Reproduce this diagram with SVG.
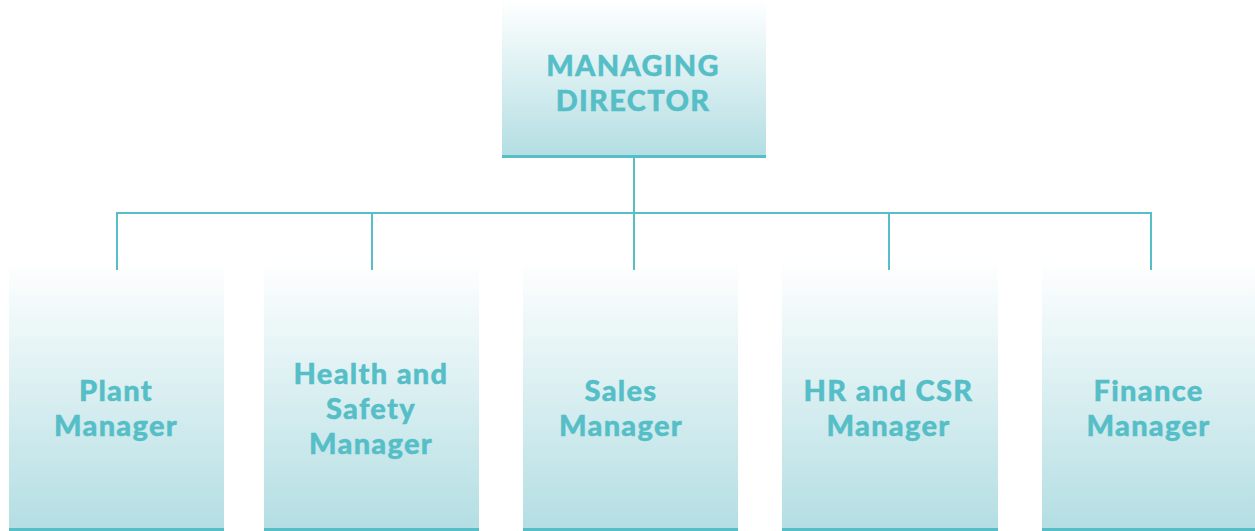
<svg xmlns="http://www.w3.org/2000/svg" width="1255" height="531" viewBox="0 0 1255 531">
  <defs>
    <linearGradient id="boxFill" x1="0" y1="0" x2="0" y2="1">
      <stop offset="0" stop-color="#ffffff"/>
      <stop offset="1" stop-color="#b3dee3"/>
    </linearGradient>
    <style>
      .box { fill: url(#boxFill); }
      .base { fill: #55bec7; }
      .label { font-family: Lato, "Open Sans", sans-serif; font-weight: 900; font-size: 29px; fill: #55bec7; text-anchor: middle; letter-spacing: 1.3px; stroke: #55bec7; stroke-width: 0.4px; }
      .wire { fill: none; stroke: #55bec7; stroke-width: 2; }
    </style>
  </defs>

  <g id="managing-director">
    <rect class="box" x="502" y="0" width="264" height="156"/>
    <rect class="base" x="502" y="155" width="264" height="3"/>
    <text class="label" x="633" y="76">MANAGING</text>
    <text class="label" x="633" y="111">DIRECTOR</text>
  </g>

  <g id="plant-manager">
    <rect class="box" x="9" y="260" width="215" height="269"/>
    <rect class="base" x="9" y="528" width="215" height="3"/>
    <text class="label" x="116" y="401">Plant</text>
    <text class="label" x="116" y="436">Manager</text>
  </g>

  <g id="health-safety-manager">
    <rect class="box" x="264" y="260" width="215" height="269"/>
    <rect class="base" x="264" y="528" width="215" height="3"/>
    <text class="label" x="371" y="384">Health and</text>
    <text class="label" x="371" y="419">Safety</text>
    <text class="label" x="371" y="454">Manager</text>
  </g>

  <g id="sales-manager">
    <rect class="box" x="523" y="260" width="215" height="269"/>
    <rect class="base" x="523" y="528" width="215" height="3"/>
    <text class="label" x="621" y="401">Sales</text>
    <text class="label" x="621" y="436">Manager</text>
  </g>

  <g id="hr-csr-manager">
    <rect class="box" x="782" y="260" width="216" height="269"/>
    <rect class="base" x="782" y="528" width="216" height="3"/>
    <text class="label" x="888.5" y="401">HR and CSR</text>
    <text class="label" x="888.5" y="436">Manager</text>
  </g>

  <g id="finance-manager">
    <rect class="box" x="1042" y="260" width="213" height="269"/>
    <rect class="base" x="1042" y="528" width="213" height="3"/>
    <text class="label" x="1148.5" y="401">Finance</text>
    <text class="label" x="1148.5" y="436">Manager</text>
  </g>

  <!-- org chart connectors, drawn over the box tops -->
  <g id="connectors">
    <path class="wire" d="M634 158 V270"/>
    <path class="wire" d="M117 270 V213 H1151 V270"/>
    <path class="wire" d="M372 213 V270"/>
    <path class="wire" d="M889 213 V270"/>
  </g>
</svg>
